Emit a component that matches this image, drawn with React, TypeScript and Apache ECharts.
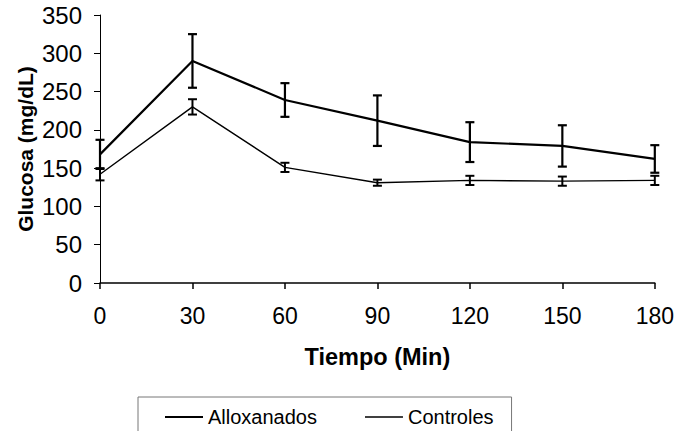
import React, { useEffect, useRef } from "react";
import * as echarts from "echarts";

const times = [0, 30, 60, 90, 120, 150, 180];
const xTicks = [0, 30, 60, 90, 120, 150, 180];
const alloxMean = [168, 290, 239, 212, 184, 179, 162];
const alloxErr = [19, 35, 22, 33, 26, 27, 18];
const ctrlMean = [142, 230, 151, 131, 134, 133, 134];
const ctrlErr = [8, 10, 6, 4, 6, 6, 6];

const FONT = "'Liberation Sans', Arial, sans-serif";

function errorData(mean: number[], err: number[]) {
  return times.map((t, i) => [t, mean[i] - err[i], mean[i] + err[i]]);
}

function errorRender(capHalf: number, lw: number) {
  return (params: any, api: any) => {
    const x = api.value(0);
    const lo = api.coord([x, api.value(1)]);
    const hi = api.coord([x, api.value(2)]);
    const st = { stroke: "#000", lineWidth: lw };
    return {
      type: "group",
      children: [
        { type: "line", shape: { x1: lo[0], y1: lo[1], x2: hi[0], y2: hi[1] }, style: st },
        { type: "line", shape: { x1: hi[0] - capHalf, y1: hi[1], x2: hi[0] + capHalf, y2: hi[1] }, style: st },
        { type: "line", shape: { x1: lo[0] - capHalf, y1: lo[1], x2: lo[0] + capHalf, y2: lo[1] }, style: st },
      ],
    };
  };
}

export default function App() {
  const ref = useRef<HTMLDivElement>(null);
  useEffect(() => {
    document.body.style.margin = "0";
    const chart = echarts.init(ref.current!, null, { renderer: "svg" });
    chart.setOption({
      animation: false,
      backgroundColor: "#fff",
      textStyle: { fontFamily: FONT, color: "#000" },
      grid: { left: 100, right: 22, top: 15, bottom: 148 },
      legend: {
        data: [
          { name: "Alloxanados", icon: "path://M0,0H40V2.2H0Z" },
          { name: "Controles", icon: "path://M0,0H40V1.5H0Z" },
        ],
        left: 138,
        top: 397,
        orient: "horizontal",
        itemWidth: 38,
        itemHeight: 14,
        itemGap: 48,
        padding: [10, 18, 10, 27],
        borderColor: "#777",
        borderWidth: 1,
        borderRadius: 0,
        itemStyle: { color: "#000", borderWidth: 0 },
        lineStyle: { width: 0 },
        textStyle: { fontFamily: FONT, fontSize: 20, color: "#000" },
      },
      xAxis: {
        type: "value",
        min: 0,
        max: 180,
        interval: 30,
        name: "Tiempo (Min)",
        nameLocation: "middle",
        nameGap: 62,
        nameMoveOverlap: false,
        nameTextStyle: { fontFamily: FONT, fontSize: 23.5, fontWeight: "bold", color: "#000" },
        axisLine: { lineStyle: { color: "#000", width: 1.5 } },
        axisTick: { show: true, length: 6, lineStyle: { color: "#000", width: 1.5 } },
        axisLabel: {
          fontFamily: FONT,
          fontSize: 23,
          color: "#000",
          margin: 21,
          customValues: xTicks,
        },
        splitLine: { show: false },
      },
      yAxis: {
        type: "value",
        min: 0,
        max: 350,
        interval: 50,
        name: "Glucosa (mg/dL)",
        nameLocation: "middle",
        nameGap: 64,
        nameMoveOverlap: false,
        nameTextStyle: { fontFamily: FONT, fontSize: 21, fontWeight: "bold", color: "#000" },
        axisLine: { show: true, lineStyle: { color: "#000", width: 1 } },
        axisTick: { show: true, length: 6, lineStyle: { color: "#000", width: 1 } },
        axisLabel: { fontFamily: FONT, fontSize: 24, color: "#000", margin: 18 },
        splitLine: { show: false },
      },
      series: [
        {
          name: "Alloxanados",
          type: "line",
          symbol: "none",
          data: times.map((t, i) => [t, alloxMean[i]]),
          lineStyle: { color: "#000", width: 2.2 },
          itemStyle: { color: "#000" },
          z: 3,
        },
        {
          name: "Controles",
          type: "line",
          symbol: "none",
          data: times.map((t, i) => [t, ctrlMean[i]]),
          lineStyle: { color: "#000", width: 1.4 },
          itemStyle: { color: "#000" },
          z: 3,
        },
        {
          name: "errAllox",
          type: "custom",
          data: errorData(alloxMean, alloxErr),
          renderItem: errorRender(4.5, 2.2),
          encode: { x: 0, y: [1, 2] },
          z: 4,
        },
        {
          name: "errCtrl",
          type: "custom",
          data: errorData(ctrlMean, ctrlErr),
          renderItem: errorRender(4.5, 2),
          encode: { x: 0, y: [1, 2] },
          z: 4,
        },
      ],
    });
    return () => chart.dispose();
  }, []);
  return <div ref={ref} style={{ width: 677, height: 431 }} />;
}
